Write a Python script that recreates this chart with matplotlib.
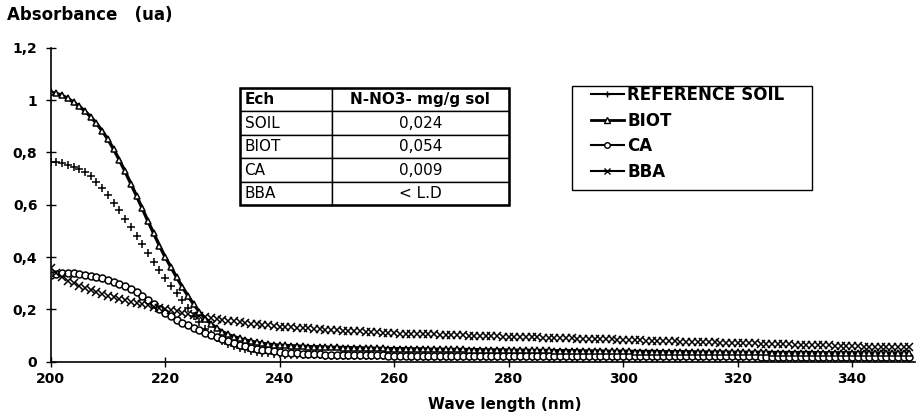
import matplotlib
matplotlib.use('Agg')
import matplotlib.pyplot as plt
from matplotlib.lines import Line2D
from matplotlib.patches import Rectangle

# Wavelength axis (nm), one reading per nm
wave = list(range(200, 351))

# Absorbance, rows of 10 nm
ref_soil = [0.765, 0.762, 0.758, 0.752, 0.745, 0.736, 0.724, 0.708, 0.688, 0.664,
            0.637, 0.608, 0.578, 0.547, 0.514, 0.481, 0.448, 0.415, 0.382, 0.350,
            0.320, 0.291, 0.263, 0.234, 0.205, 0.176, 0.150, 0.126, 0.106, 0.090,
            0.078, 0.068, 0.060, 0.053, 0.047, 0.042, 0.038, 0.035, 0.032, 0.030,
            0.028, 0.027, 0.026, 0.026, 0.025, 0.025, 0.024, 0.024, 0.023, 0.023,
            0.023, 0.022, 0.022, 0.022, 0.021, 0.021, 0.021, 0.021, 0.020, 0.020,
            0.020, 0.020, 0.020, 0.019, 0.019, 0.019, 0.019, 0.019, 0.019, 0.018,
            0.018, 0.018, 0.018, 0.018, 0.018, 0.018, 0.017, 0.017, 0.017, 0.017,
            0.017, 0.017, 0.017, 0.017, 0.017, 0.017, 0.017, 0.016, 0.016, 0.016,
            0.016, 0.016, 0.016, 0.016, 0.016, 0.016, 0.016, 0.016, 0.016, 0.016,
            0.016, 0.016, 0.016, 0.016, 0.016, 0.016, 0.015, 0.015, 0.015, 0.015,
            0.015, 0.015, 0.015, 0.015, 0.015, 0.015, 0.015, 0.015, 0.015, 0.015,
            0.015, 0.015, 0.015, 0.015, 0.015, 0.015, 0.015, 0.015, 0.015, 0.015,
            0.015, 0.015, 0.015, 0.014, 0.014, 0.014, 0.014, 0.014, 0.014, 0.014,
            0.014, 0.014, 0.014, 0.014, 0.014, 0.014, 0.014, 0.014, 0.014, 0.014, 0.014]

biot = [1.030, 1.025, 1.018, 1.006, 0.992, 0.976, 0.957, 0.936, 0.911, 0.882,
        0.850, 0.812, 0.771, 0.727, 0.681, 0.634, 0.586, 0.537, 0.490, 0.444,
        0.400, 0.362, 0.323, 0.286, 0.251, 0.219, 0.190, 0.165, 0.145, 0.129,
        0.115, 0.104, 0.096, 0.089, 0.083, 0.078, 0.074, 0.070, 0.067, 0.065,
        0.063, 0.062, 0.061, 0.060, 0.059, 0.058, 0.057, 0.057, 0.056, 0.055,
        0.055, 0.054, 0.054, 0.053, 0.053, 0.052, 0.052, 0.051, 0.051, 0.050,
        0.050, 0.050, 0.050, 0.049, 0.049, 0.049, 0.048, 0.048, 0.048, 0.047,
        0.047, 0.047, 0.047, 0.046, 0.046, 0.046, 0.045, 0.045, 0.045, 0.045,
        0.044, 0.044, 0.044, 0.044, 0.043, 0.043, 0.043, 0.043, 0.042, 0.042,
        0.042, 0.042, 0.042, 0.041, 0.041, 0.041, 0.041, 0.040, 0.040, 0.040,
        0.040, 0.040, 0.039, 0.039, 0.039, 0.039, 0.039, 0.038, 0.038, 0.038,
        0.038, 0.038, 0.038, 0.037, 0.037, 0.037, 0.037, 0.037, 0.037, 0.036,
        0.036, 0.036, 0.036, 0.036, 0.036, 0.036, 0.035, 0.035, 0.035, 0.035,
        0.035, 0.035, 0.035, 0.035, 0.034, 0.034, 0.034, 0.034, 0.034, 0.034,
        0.034, 0.034, 0.034, 0.033, 0.033, 0.033, 0.033, 0.033, 0.033, 0.033, 0.033]

ca = [0.330, 0.336, 0.340, 0.340, 0.338, 0.335, 0.332, 0.328, 0.324, 0.319,
      0.313, 0.306, 0.298, 0.289, 0.278, 0.266, 0.252, 0.237, 0.220, 0.203,
      0.187, 0.173, 0.160, 0.149, 0.139, 0.129, 0.120, 0.110, 0.101, 0.093,
      0.085, 0.078, 0.071, 0.065, 0.059, 0.054, 0.050, 0.046, 0.043, 0.040,
      0.037, 0.035, 0.033, 0.032, 0.031, 0.030, 0.029, 0.028, 0.027, 0.026,
      0.026, 0.025, 0.025, 0.025, 0.024, 0.024, 0.024, 0.024, 0.024, 0.023,
      0.023, 0.023, 0.023, 0.023, 0.023, 0.022, 0.022, 0.022, 0.022, 0.022,
      0.022, 0.022, 0.022, 0.021, 0.021, 0.021, 0.021, 0.021, 0.021, 0.021,
      0.021, 0.021, 0.021, 0.021, 0.021, 0.021, 0.021, 0.021, 0.021, 0.021,
      0.021, 0.021, 0.021, 0.020, 0.020, 0.020, 0.020, 0.020, 0.020, 0.020,
      0.020, 0.020, 0.020, 0.020, 0.020, 0.020, 0.020, 0.020, 0.020, 0.020,
      0.020, 0.020, 0.020, 0.020, 0.020, 0.020, 0.020, 0.020, 0.020, 0.020,
      0.020, 0.020, 0.020, 0.020, 0.019, 0.019, 0.019, 0.019, 0.019, 0.019,
      0.019, 0.019, 0.019, 0.019, 0.019, 0.019, 0.019, 0.019, 0.019, 0.019,
      0.019, 0.019, 0.019, 0.019, 0.019, 0.019, 0.019, 0.019, 0.019, 0.019, 0.019]

bba = [0.360, 0.340, 0.325, 0.310, 0.300, 0.290, 0.282, 0.274, 0.266, 0.259,
       0.252, 0.246, 0.240, 0.235, 0.230, 0.225, 0.220, 0.215, 0.210, 0.205,
       0.200, 0.196, 0.192, 0.188, 0.183, 0.178, 0.175, 0.171, 0.167, 0.163,
       0.160, 0.157, 0.154, 0.151, 0.148, 0.145, 0.143, 0.141, 0.139, 0.136,
       0.134, 0.133, 0.131, 0.130, 0.128, 0.127, 0.126, 0.124, 0.123, 0.122,
       0.120, 0.119, 0.118, 0.117, 0.116, 0.114, 0.113, 0.112, 0.111, 0.110,
       0.108, 0.107, 0.107, 0.106, 0.106, 0.105, 0.104, 0.104, 0.103, 0.103,
       0.102, 0.101, 0.101, 0.100, 0.099, 0.099, 0.098, 0.098, 0.097, 0.096,
       0.096, 0.095, 0.095, 0.094, 0.093, 0.093, 0.092, 0.091, 0.091, 0.090,
       0.090, 0.089, 0.088, 0.088, 0.087, 0.087, 0.086, 0.085, 0.085, 0.084,
       0.084, 0.083, 0.082, 0.082, 0.081, 0.080, 0.080, 0.079, 0.079, 0.078,
       0.077, 0.077, 0.076, 0.076, 0.075, 0.074, 0.074, 0.073, 0.073, 0.072,
       0.071, 0.071, 0.070, 0.070, 0.069, 0.068, 0.068, 0.067, 0.066, 0.066,
       0.065, 0.065, 0.064, 0.063, 0.063, 0.062, 0.062, 0.061, 0.060, 0.060,
       0.059, 0.059, 0.058, 0.058, 0.057, 0.057, 0.056, 0.056, 0.055, 0.055, 0.055]

# Axis ticks
x_ticks = [200, 220, 240, 260, 280, 300, 320, 340]
y_ticks = [0, 0.2, 0.4, 0.6, 0.8, 1.0, 1.2]
y_tick_labels = ['0', '0,2', '0,4', '0,6', '0,8', '1', '1,2']

# Inset table
table_rows = [['Ech', 'N-NO3- mg/g sol'],
              ['SOIL', '0,024'],
              ['BIOT', '0,054'],
              ['CA', '0,009'],
              ['BBA', '< L.D']]

legend_labels = ['REFERENCE SOIL', 'BIOT', 'CA', 'BBA']

fig = plt.figure(figsize=(9.16, 4.17), dpi=100)
ax = fig.add_axes([0.0553, 0.1326, 0.9437, 0.753])

# Curves (markers only for soil and BBA, solid line for BIOT)
ax.plot(wave, ref_soil, linestyle='none', marker='+', markersize=6,
        markeredgewidth=1.1, color='black')
ax.plot(wave, ca, linestyle='-', linewidth=1.0, marker='o', markersize=5,
        markerfacecolor='white', markeredgecolor='black', markeredgewidth=1.1,
        color='black')
ax.plot(wave, bba, linestyle='none', marker='x', markersize=5.5,
        markeredgewidth=1.1, color='black')
ax.plot(wave, biot, linestyle='-', linewidth=2.4, marker='^', markersize=5,
        markerfacecolor='white', markeredgecolor='black', markeredgewidth=1.1,
        color='black')

ax.set_xlim(200, 351)
ax.set_ylim(0, 1.2)
ax.set_xticks(x_ticks)
ax.set_xticklabels([str(t) for t in x_ticks])
ax.set_yticks(y_ticks)
ax.set_yticklabels(y_tick_labels)

for side in ['top', 'right']:
    ax.spines[side].set_visible(False)
for side in ['left', 'bottom']:
    ax.spines[side].set_linewidth(1.2)
ax.tick_params(axis='both', direction='inout', length=7, width=1.0,
               labelsize=10)
ax.tick_params(axis='y', pad=6)
ax.tick_params(axis='x', pad=4)
for lab in ax.get_xticklabels() + ax.get_yticklabels():
    lab.set_fontweight('bold')

fig.text(0.008, 0.964, 'Absorbance   (ua)', fontsize=12, fontweight='bold',
         ha='left', va='center')
fig.text(0.551, 0.03, 'Wave length (nm)', fontsize=11, fontweight='bold',
         ha='center', va='center')

# Legend with line + marker handles, box drawn separately
handles = [
    Line2D([], [], color='black', linewidth=1.5, marker='+', markersize=5),
    Line2D([], [], color='black', linewidth=2.0, marker='^', markersize=4,
           markerfacecolor='white'),
    Line2D([], [], color='black', linewidth=1.5, marker='o', markersize=4,
           markerfacecolor='white'),
    Line2D([], [], color='black', linewidth=1.5, marker='x', markersize=4.5),
]
leg = fig.legend(handles, legend_labels, loc='upper left',
                 bbox_to_anchor=(0.645, 0.793), frameon=False,
                 prop={'size': 12, 'weight': 'bold'}, handlelength=2.0,
                 handletextpad=0.2, labelspacing=0.45, borderpad=0,
                 borderaxespad=0)
fig.patches.append(Rectangle((572 / 916, 1 - 190 / 417), 240 / 916, 104 / 417,
                             transform=fig.transFigure, fill=False,
                             edgecolor='black', linewidth=1.0))

# Table drawn in its own invisible axes
tax = fig.add_axes([0.262, 0.508, 0.294, 0.281])
tax.axis('off')
tbl = tax.table(cellText=table_rows, bbox=[0, 0, 1, 1],
                colWidths=[0.34, 0.66])
tbl.auto_set_font_size(False)
for (r, c), cell in tbl.get_celld().items():
    cell.set_edgecolor('black')
    cell.set_linewidth(1.0)
    txt = cell.get_text()
    txt.set_fontsize(11)
    if r == 0:
        txt.set_fontweight('bold')
    if c == 0:
        cell.set_text_props(ha='left')
        cell.PAD = 0.05
    else:
        cell.set_text_props(ha='center')
tax.add_patch(Rectangle((0, 0), 1, 1, transform=tax.transAxes, fill=False,
                        edgecolor='black', linewidth=1.8, clip_on=False))

fig.savefig('out.png', dpi=100)
